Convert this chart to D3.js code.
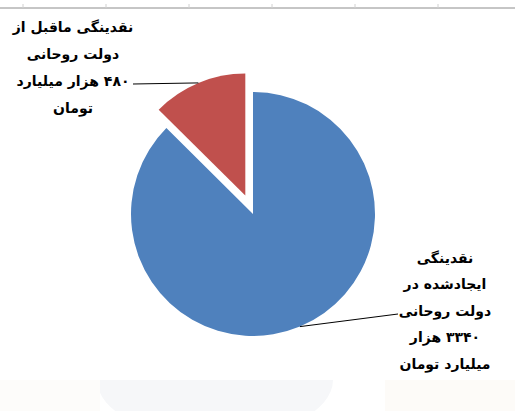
<!DOCTYPE html>
<html>
<head>
<meta charset="utf-8">
<script src="https://cdn.jsdelivr.net/npm/d3@7"></script>
<style>
  body { margin: 0; background: #fff; }
  svg { display: block; }
</style>
</head>
<body>
<svg id="chart" width="515" height="411"></svg>
<script>
// values (thousand billion toman)
var categories = ['before', 'created'];
var values = [480, 3340];
var colors = ['#c0504d', '#4f81bd'];
var labelLines = [
    ['نقدینگی ماقبل از', 'دولت روحانی', '۴۸۰  هزار میلیارد', 'تومان'],
    ['نقدینگی', 'ایجادشده در', 'دولت روحانی', '۳۳۴۰ هزار', 'میلیارد تومان']
];
var topTicks = [0, 1, 2, 3, 4, 5];

var svg = d3.select('#chart');

// faint background leftovers at the bottom
svg.append('ellipse')
    .attr('cx', 215).attr('cy', 380).attr('rx', 118).attr('ry', 58)
    .attr('fill', '#f6f7f9');
svg.append('rect')
    .attr('x', 0).attr('y', 380).attr('width', 100).attr('height', 31)
    .attr('fill', '#fdfcfa');
svg.append('rect')
    .attr('x', 385).attr('y', 380).attr('width', 130).attr('height', 31)
    .attr('fill', '#fdfbf8');
svg.append('rect')
    .attr('x', 0).attr('y', 0).attr('width', 515).attr('height', 380)
    .attr('fill', '#fff');

// top ruler line
var tx = d3.scaleLinear().domain([0, 5]).range([23, 438]);
svg.append('line')
    .attr('x1', 0).attr('x2', 515).attr('y1', 8).attr('y2', 8)
    .attr('stroke', '#8c8c8c').attr('stroke-width', 1);
svg.selectAll('.tick').data(topTicks).enter().append('line')
    .attr('x1', function(d){ return tx(d); })
    .attr('x2', function(d){ return tx(d); })
    .attr('y1', 4).attr('y2', 8)
    .attr('stroke', '#d0d0d0');

var cx = 253, cy = 214, r = 122, explode = 20;

var pie = d3.pie().sort(null).value(function(d){ return d; })
    .startAngle(-2 * Math.PI * values[0] / d3.sum(values))
    .endAngle(2 * Math.PI - 2 * Math.PI * values[0] / d3.sum(values));
var arcs = pie(values);
var arc = d3.arc().innerRadius(0).outerRadius(r);

var g = svg.append('g').attr('transform', 'translate(' + cx + ',' + cy + ')');

g.selectAll('path').data(arcs).enter().append('path')
    .attr('d', arc)
    .attr('fill', function(d, i){ return colors[i]; })
    .attr('transform', function(d, i){
        if(i !== 0) return null;
        var m = (d.startAngle + d.endAngle) / 2;
        return 'translate(' + (Math.sin(m) * explode) + ',' + (-Math.cos(m) * explode) + ')';
    });

// leader lines
var leaderEnds = [[133, 84], [398, 314]];
arcs.forEach(function(d, i){
    var m = (d.startAngle + d.endAngle) / 2;
    var off = i === 0 ? explode : 0;
    var x0 = cx + Math.sin(m) * (r + off);
    var y0 = cy - Math.cos(m) * (r + off);
    svg.append('line')
        .attr('x1', x0).attr('y1', y0)
        .attr('x2', leaderEnds[i][0]).attr('y2', leaderEnds[i][1])
        .attr('stroke', '#000').attr('stroke-width', 1);
});

// labels
var labelPos = [{x: 73, y: 27, dy: 27}, {x: 445, y: 258, dy: 26.5}];
labelLines.forEach(function(lines, i){
    var t = svg.append('text')
        .attr('text-anchor', 'middle')
        .attr('direction', 'rtl')
        .attr('font-family', '"DejaVu Sans", sans-serif')
        .attr('font-weight', 'bold')
        .attr('font-size', 14)
        .attr('fill', '#000');
    lines.forEach(function(s, j){
        t.append('tspan')
            .attr('x', labelPos[i].x)
            .attr('y', labelPos[i].y + j * labelPos[i].dy)
            .attr('dy', '0.35em')
            .text(s);
    });
});
</script>
</body>
</html>
